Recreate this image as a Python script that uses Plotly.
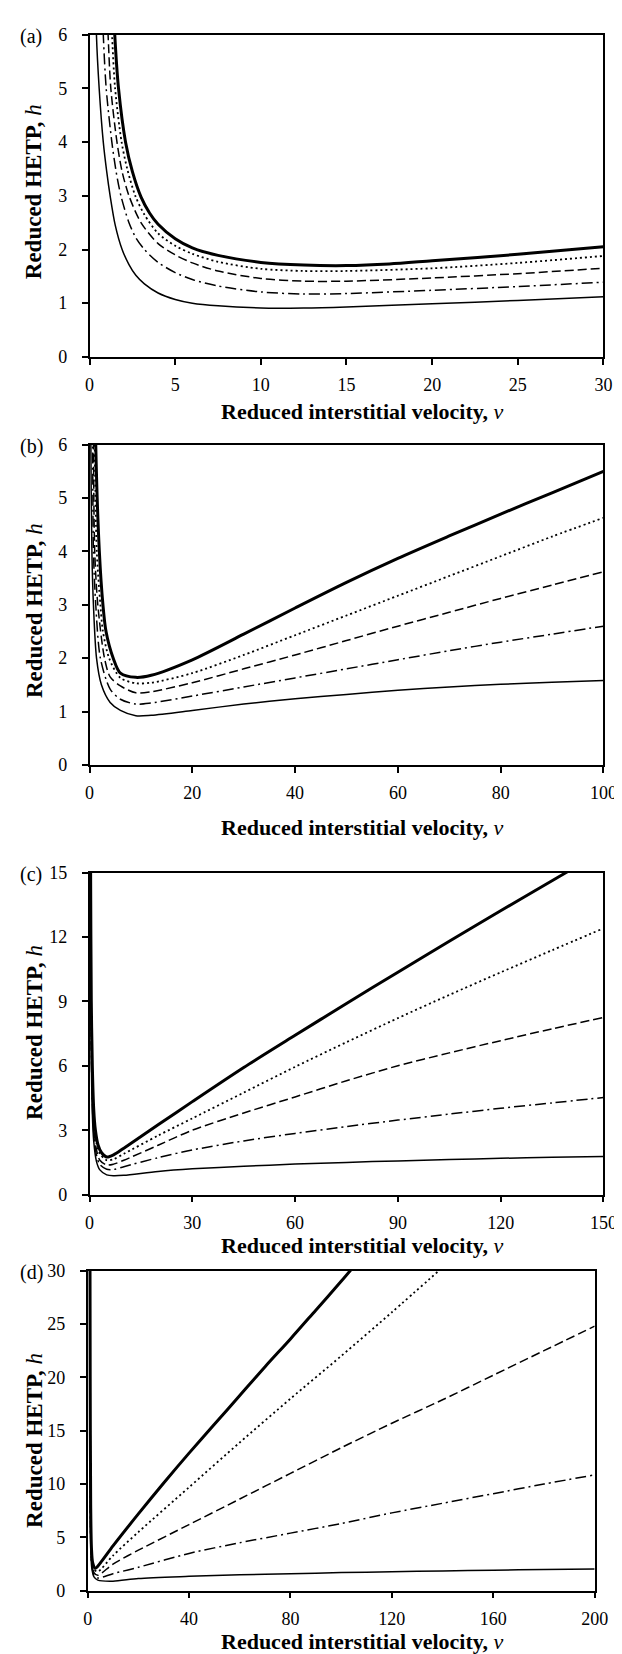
import plotly.graph_objects as go

W, H = 622, 1654

# ---------------- Panel (a) ----------------
A_V_THIN = [0.3, 0.4, 0.56, 0.8, 1.0, 1.2, 1.5, 1.9, 2.3, 2.7, 3.2, 4, 5, 6, 7.5, 10, 12.5, 15, 20, 25, 30]
A_H_THIN = [8.0, 6.0, 5.0, 4.0, 3.45, 3.0, 2.45, 2.0, 1.72, 1.52, 1.36, 1.19, 1.07, 1.0, 0.95, 0.91, 0.91, 0.93, 0.99, 1.05, 1.12]
A_V_DASHDOT = [0.6, 0.8, 0.97, 1.3, 1.55, 1.83, 2.3, 2.7, 3.2, 4, 5, 6, 7.5, 10, 12.5, 15, 20, 25, 30]
A_H_DASHDOT = [8, 6, 5, 4, 3.45, 3.0, 2.5, 2.22, 2.0, 1.76, 1.57, 1.44, 1.32, 1.21, 1.17, 1.18, 1.24, 1.31, 1.39]
A_V_DASH = [0.85, 1.08, 1.24, 1.6, 1.9, 2.3, 3.0, 4.0, 5, 6, 7.5, 10, 12.5, 15, 20, 25, 30]
A_H_DASH = [8, 6, 5, 4, 3.45, 3.0, 2.5, 2.11, 1.9, 1.75, 1.60, 1.46, 1.41, 1.41, 1.47, 1.55, 1.65]
A_V_DOT = [1.05, 1.31, 1.49, 1.87, 2.2, 2.67, 3.2, 4, 5, 6, 7.5, 10, 12.5, 15, 20, 25, 30]
A_H_DOT = [8, 6, 5, 4, 3.5, 3.0, 2.65, 2.3, 2.07, 1.92, 1.77, 1.64, 1.60, 1.60, 1.65, 1.75, 1.88]
A_V_THICK = [1.2, 1.47, 1.69, 2.1, 2.5, 3.0, 3.5, 4.0, 5.0, 6.0, 7.5, 10, 12.5, 15, 17.5, 20, 25, 30]
A_H_THICK = [8, 6, 5, 4, 3.45, 2.98, 2.68, 2.47, 2.2, 2.03, 1.89, 1.76, 1.71, 1.70, 1.73, 1.79, 1.91, 2.05]

# ---------------- Panel (b) ----------------
B_V_THIN = [0.15, 0.25, 0.45, 0.75, 1.35, 2.3, 4, 6, 9, 12, 20, 30, 40, 50, 60, 70, 80, 90, 100]
B_H_THIN = [9, 6, 4, 3, 2, 1.5, 1.17, 1.02, 0.92, 0.93, 1.02, 1.14, 1.24, 1.32, 1.40, 1.46, 1.51, 1.55, 1.58]
B_V_DASHDOT = [0.5, 0.6, 0.75, 1.2, 2.1, 4, 6, 9, 12, 20, 30, 40, 50, 60, 70, 80, 90, 100]
B_H_DASHDOT = [9, 6, 4, 3, 2, 1.42, 1.23, 1.14, 1.16, 1.29, 1.46, 1.63, 1.80, 1.97, 2.14, 2.30, 2.45, 2.60]
B_V_DASH = [0.6, 0.75, 1.0, 1.6, 2.9, 4, 6, 9, 12, 20, 30, 40, 50, 60, 70, 80, 90, 100]
B_H_DASH = [9, 6, 4, 3, 2, 1.65, 1.48, 1.35, 1.37, 1.54, 1.80, 2.06, 2.33, 2.60, 2.86, 3.12, 3.37, 3.62]
B_V_DOT = [0.8, 1.0, 1.4, 2.1, 2.6, 3.8, 6, 9, 12, 20, 30, 40, 50, 60, 70, 80, 90, 100]
B_H_DOT = [9, 6, 4, 3, 2.5, 2, 1.63, 1.53, 1.54, 1.72, 2.06, 2.43, 2.80, 3.17, 3.54, 3.91, 4.28, 4.63]
B_V_THICK = [0.9, 1.2, 1.9, 2.6, 3.2, 4.6, 6, 9, 12, 20, 30, 40, 50, 60, 70, 80, 90, 100]
B_H_THICK = [9, 6, 4, 3, 2.5, 2.0, 1.72, 1.64, 1.68, 1.97, 2.45, 2.94, 3.42, 3.87, 4.29, 4.70, 5.10, 5.50]

# ---------------- Panel (c) ----------------
C_V = [0.3, 0.5, 0.8, 1.2, 2, 3, 5, 7, 10, 20, 30, 45, 60, 75, 90, 105, 120, 135, 150]
C_H_THIN = [15, 6.5, 3.8, 2.5, 1.55, 1.15, 0.92, 0.88, 0.9, 1.08, 1.2, 1.32, 1.42, 1.5, 1.57, 1.63, 1.69, 1.74, 1.78]
C_H_DASHDOT = [15, 7, 4.2, 2.9, 1.85, 1.4, 1.18, 1.17, 1.3, 1.72, 2.08, 2.5, 2.85, 3.17, 3.47, 3.75, 4.02, 4.27, 4.52]
C_H_DASH = [15, 7.5, 4.6, 3.2, 2.1, 1.6, 1.38, 1.42, 1.6, 2.3, 3.0, 3.8, 4.55, 5.3, 6.0, 6.6, 7.17, 7.72, 8.25]
C_H_DOT = [15, 8, 5, 3.5, 2.4, 1.9, 1.6, 1.65, 1.9, 2.75, 3.55, 4.75, 5.95, 7.1, 8.22, 9.3, 10.35, 11.38, 12.4]
C_V_THICK = [0.25, 0.3, 0.5, 0.8, 1.2, 1.7, 2.5, 3.5, 5, 7, 10, 20, 30, 45, 60, 75, 90, 105, 120, 135, 140]
C_H_THICK = [20, 15, 9, 6, 4, 3, 2.3, 1.95, 1.75, 1.85, 2.16, 3.25, 4.33, 5.92, 7.42, 8.9, 10.36, 11.8, 13.22, 14.62, 15.08]

# ---------------- Panel (d) ----------------
D_V = [0.9, 1.2, 1.6, 2.5, 4, 10, 20, 40, 60, 80, 100, 120, 140, 160, 180, 200]
D_H_THIN = [30, 4.5, 2.2, 1.3, 1.0, 0.9, 1.15, 1.35, 1.5, 1.6, 1.7, 1.78, 1.86, 1.93, 2.0, 2.05]
D_H_DASHDOT = [30, 5, 2.5, 1.45, 1.2, 1.6, 2.2, 3.5, 4.5, 5.4, 6.3, 7.3, 8.2, 9.1, 10.0, 10.86]
D_H_DASH = [30, 5.5, 2.8, 1.7, 1.45, 2.5, 3.8, 6.2, 8.6, 11.0, 13.4, 15.7, 17.9, 20.2, 22.5, 24.8]
D_V_DOT = [0.9, 1.2, 1.6, 2.5, 4, 10, 20, 40, 60, 80, 100, 120, 140]
D_H_DOT = [30, 6, 3, 2, 1.8, 3.3, 5.5, 9.7, 13.9, 18.0, 22.0, 26.1, 30.3]
D_V_THICK = [0.9, 1.0, 1.2, 1.5, 2, 3, 5, 10, 20, 30, 40, 50, 60, 70, 80, 90, 100, 105]
D_H_THICK = [35, 20, 8, 4, 2.6, 2.1, 2.6, 4.2, 7.2, 10.1, 12.9, 15.6, 18.3, 21.0, 23.6, 26.3, 29.0, 30.4]

# axis settings per panel
X_RANGES = [[0, 30], [0, 100], [0, 150], [0, 200]]
X_DTICKS = [5, 20, 30, 40]
Y_RANGES = [[0, 6], [0, 6], [0, 15], [0, 30]]
Y_DTICKS = [1, 1, 3, 5]
PANEL_LABELS = ["(a)", "(b)", "(c)", "(d)"]

# pixel layout (left, right, top, bottom) of each plot area
BOXES = [(79, 609, 17, 343), (79, 609, 432, 756), (79, 609, 865, 1191), (77, 600, 1268, 1592)]
XTITLE_Y = [398, 819, 1243, 1643]
YTITLE_Y = [176, 600, 1027, 1440]

FONT = "Liberation Serif"

STYLES = {
    "thin": dict(color="black", width=1.5, dash="solid"),
    "dashdot": dict(color="black", width=1.5, dash="11px,4px,2px,4px"),
    "dash": dict(color="black", width=1.5, dash="9px,4px"),
    "dot": dict(color="black", width=1.8, dash="2px,3px"),
    "thick": dict(color="black", width=3, dash="solid"),
}

panels = [
    [(A_V_THIN, A_H_THIN, "thin"), (A_V_DASHDOT, A_H_DASHDOT, "dashdot"), (A_V_DASH, A_H_DASH, "dash"),
     (A_V_DOT, A_H_DOT, "dot"), (A_V_THICK, A_H_THICK, "thick")],
    [(B_V_THIN, B_H_THIN, "thin"), (B_V_DASHDOT, B_H_DASHDOT, "dashdot"), (B_V_DASH, B_H_DASH, "dash"),
     (B_V_DOT, B_H_DOT, "dot"), (B_V_THICK, B_H_THICK, "thick")],
    [(C_V, C_H_THIN, "thin"), (C_V, C_H_DASHDOT, "dashdot"), (C_V, C_H_DASH, "dash"),
     (C_V, C_H_DOT, "dot"), (C_V_THICK, C_H_THICK, "thick")],
    [(D_V, D_H_THIN, "thin"), (D_V, D_H_DASHDOT, "dashdot"), (D_V, D_H_DASH, "dash"),
     (D_V_DOT, D_H_DOT, "dot"), (D_V_THICK, D_H_THICK, "thick")],
]


def px(x):
    return x / W


def py(y):
    return 1 - y / H


fig = go.Figure()
layout = dict(
    width=W, height=H, margin=dict(l=0, r=0, t=0, b=0),
    paper_bgcolor="white", plot_bgcolor="white", showlegend=False,
    font=dict(family=FONT, size=18, color="black"),
)
annotations = []

for i, series in enumerate(panels):
    n = "" if i == 0 else str(i + 1)
    for v, h, st in series:
        fig.add_trace(go.Scatter(x=v, y=h, mode="lines", line=dict(shape="spline", smoothing=0.8, **STYLES[st]),
                                 xaxis="x" + n, yaxis="y" + n, hoverinfo="skip"))
    l, r, t, b = BOXES[i]
    axcommon = dict(showline=True, linecolor="black", linewidth=1.5, mirror=True, showgrid=False, zeroline=False,
                    ticks="outside", ticklen=6, tickwidth=1.5, tickcolor="black",
                    tickfont=dict(family=FONT, size=18, color="black"))
    layout["xaxis" + n] = dict(domain=[px(l), px(r)], range=X_RANGES[i], dtick=X_DTICKS[i], tick0=0,
                               anchor="y" + n, ticklabelstandoff=5, **axcommon)
    layout["yaxis" + n] = dict(domain=[py(b), py(t)], range=Y_RANGES[i], dtick=Y_DTICKS[i], tick0=0,
                               anchor="x" + n, ticklabelstandoff=11, **axcommon)
    annotations.append(dict(text="<b>Reduced interstitial velocity, </b><i>ν</i>", xref="paper", yref="paper",
                            x=px(360), y=py(XTITLE_Y[i]), showarrow=False, xanchor="center", yanchor="middle",
                            font=dict(family=FONT, size=22, color="black")))
    annotations.append(dict(text="<b>Reduced HETP, </b><i>h</i>", xref="paper", yref="paper",
                            x=px(22), y=py(YTITLE_Y[i]), showarrow=False, textangle=-90,
                            xanchor="center", yanchor="middle", font=dict(family=FONT, size=23, color="black")))
    annotations.append(dict(text=PANEL_LABELS[i], xref="paper", yref="paper", x=px(19), y=py(t + 2),
                            showarrow=False, xanchor="center", yanchor="middle",
                            font=dict(family=FONT, size=20, color="black")))

layout["annotations"] = annotations
fig.update_layout(**layout)
fig.write_html("out.html")
